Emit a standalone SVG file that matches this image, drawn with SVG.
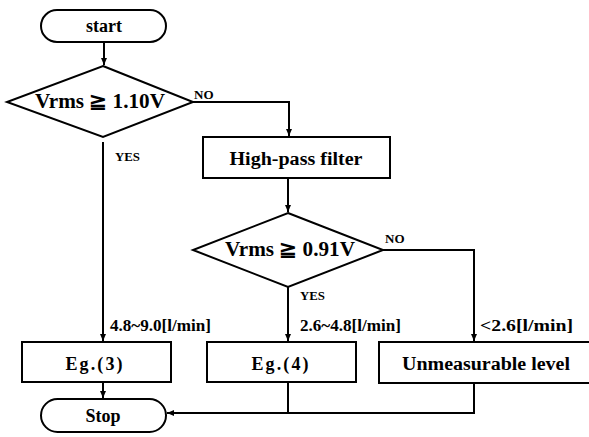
<svg xmlns="http://www.w3.org/2000/svg" width="589" height="437" viewBox="0 0 589 437">
<style>
.s{fill:#fff;stroke:#000;stroke-width:2}
.t{font-family:"Liberation Serif","DejaVu Serif",serif;font-weight:bold;fill:#000;text-anchor:middle}
.n{font-size:18px}
.l{font-family:"Liberation Serif","DejaVu Serif",serif;font-weight:bold;fill:#000;font-size:13px}
.r{font-family:"Liberation Serif","DejaVu Serif",serif;font-weight:bold;fill:#000;font-size:16px}
.c{fill:none;stroke:#000;stroke-width:2}
</style>
<defs>
<marker id="a" markerWidth="8" markerHeight="8" refX="7" refY="4" orient="auto" markerUnits="userSpaceOnUse">
<path d="M0,1 L7,4 L0,7 Z" fill="#000"/>
</marker>
</defs>
<rect width="589" height="437" fill="#fff"/>
<g id="connectors">
<path class="c" d="M104,42 V65" marker-end="url(#a)"/>
<path class="c" d="M193,102 H289 V136" marker-end="url(#a)"/>
<path class="c" d="M103,142 V341" marker-end="url(#a)"/>
<path class="c" d="M288,178 V212" marker-end="url(#a)"/>
<path class="c" d="M383,250 H474 V341" marker-end="url(#a)"/>
<path class="c" d="M288,287 V341" marker-end="url(#a)"/>
<path class="c" d="M103,382 V398" marker-end="url(#a)"/>
<path class="c" d="M288,382 V413"/>
<path class="c" d="M474,383 V413 H167" marker-end="url(#a)"/>
<text class="l" x="194" y="99">NO</text>
<text class="l" x="115" y="161" textLength="25" lengthAdjust="spacingAndGlyphs">YES</text>
<text class="l" x="385" y="243">NO</text>
<text class="l" x="300" y="300" textLength="25" lengthAdjust="spacingAndGlyphs">YES</text>
<text class="r" x="110" y="331" textLength="101" lengthAdjust="spacingAndGlyphs">4.8~9.0[l/min]</text>
<text class="r" x="300" y="331" textLength="101" lengthAdjust="spacingAndGlyphs">2.6~4.8[l/min]</text>
<text class="r" x="480" y="331" textLength="93" lengthAdjust="spacingAndGlyphs">&lt;2.6[l/min]</text>
</g>
<g id="start">
<rect class="s" x="41" y="10" width="125" height="32" rx="16"/>
<text class="t n" x="104" y="32">start</text>
</g>
<g id="decision1">
<polygon class="s" points="103,66 193,102 103,137 7,102"/>
<text class="t" x="100" y="108" font-size="20" textLength="130" lengthAdjust="spacingAndGlyphs">Vrms ≧ 1.10V</text>
</g>
<g id="highpass">
<rect class="s" x="203" y="137" width="187" height="41"/>
<text class="t n" x="296" y="165" textLength="133" lengthAdjust="spacingAndGlyphs">High-pass filter</text>
</g>
<g id="decision2">
<polygon class="s" points="288,213 383,250 288,287 193,250"/>
<text class="t" x="290" y="256" font-size="20" textLength="130" lengthAdjust="spacingAndGlyphs">Vrms ≧ 0.91V</text>
</g>
<g id="eq3">
<rect class="s" x="22" y="342" width="149" height="40"/>
<text class="t n" x="94" y="370" textLength="57" lengthAdjust="spacing">Eg.(3)</text>
</g>
<g id="eq4">
<rect class="s" x="207" y="342" width="149" height="40"/>
<text class="t n" x="280" y="370" textLength="57" lengthAdjust="spacing">Eg.(4)</text>
</g>
<g id="unmeasurable">
<rect class="s" x="379" y="342" width="220" height="41"/>
<text class="t n" x="486" y="370" textLength="168" lengthAdjust="spacingAndGlyphs">Unmeasurable level</text>
</g>
<g id="stop">
<rect class="s" x="41" y="399" width="125" height="33" rx="16.5"/>
<text class="t n" x="103" y="422">Stop</text>
</g>
</svg>
